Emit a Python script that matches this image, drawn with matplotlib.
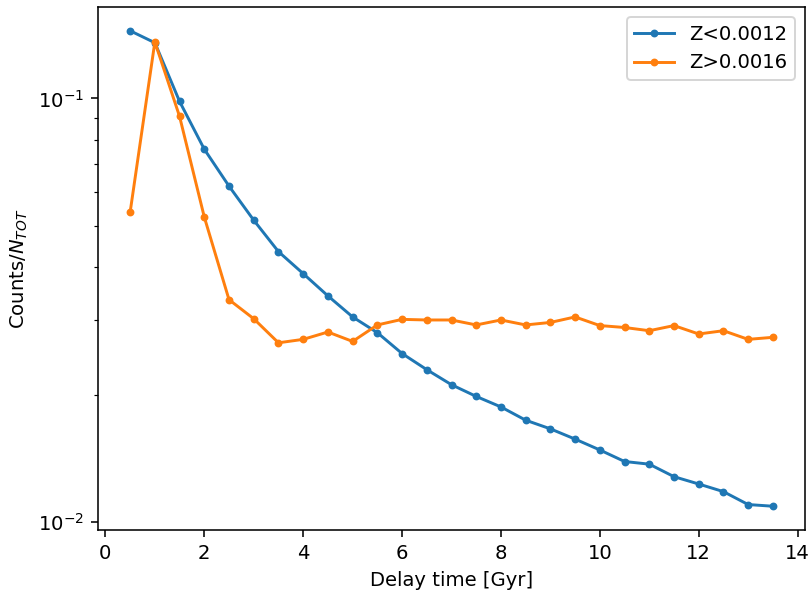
import matplotlib
matplotlib.use("Agg")
import matplotlib.pyplot as plt

# delay time bins [Gyr]
delay = [0.5, 1.0, 1.5, 2.0, 2.5, 3.0, 3.5, 4.0, 4.5, 5.0, 5.5, 6.0, 6.5, 7.0,
         7.5, 8.0, 8.5, 9.0, 9.5, 10.0, 10.5, 11.0, 11.5, 12.0, 12.5, 13.0, 13.5]

# Z < 0.0012
low_z = [0.1445, 0.1354, 0.0984, 0.0759, 0.0621, 0.0516, 0.0435, 0.0386, 0.0342,
         0.0305, 0.0280, 0.0250, 0.0229, 0.0211, 0.0198, 0.0187, 0.0174, 0.0166,
         0.0157, 0.0148, 0.0139, 0.0137, 0.0128, 0.0123, 0.0118, 0.0110, 0.0109]

# Z > 0.0016
high_z = [0.0539, 0.1360, 0.0907, 0.0525, 0.0335, 0.0302, 0.0265, 0.0270, 0.0281,
          0.0267, 0.0292, 0.0301, 0.0300, 0.0300, 0.0292, 0.0300, 0.0292, 0.0296,
          0.0305, 0.0291, 0.0288, 0.0283, 0.0291, 0.0278, 0.0283, 0.0270, 0.0273]

dpi = 141
fig = plt.figure(figsize=(809 / dpi, 596 / dpi), dpi=dpi)
ax = fig.add_axes([98 / 809, 1 - 530 / 596, (805 - 98) / 809, (530 - 7) / 596])

ax.plot(delay, low_z, '.-', label='Z<0.0012')
ax.plot(delay, high_z, '.-', label='Z>0.0016')
ax.set_yscale('log')
ax.set_xlabel('Delay time [Gyr]')
ax.set_ylabel(r'Counts/$N_{TOT}$')
ax.legend()

fig.savefig('out.png', dpi=dpi)
